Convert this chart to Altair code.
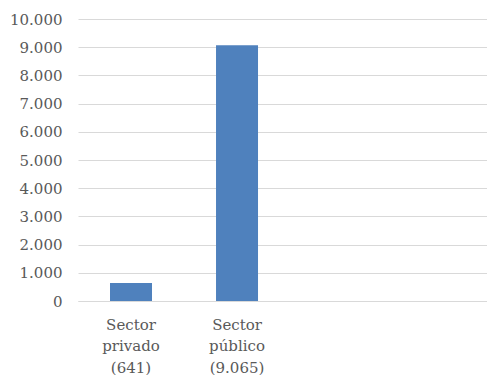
import altair as alt
import pandas as pd

categories = ["Sector privado (641)", "Sector público (9.065)"]
label_lines = {"Sector privado (641)": "Sector|privado|(641)",
               "Sector público (9.065)": "Sector|público|(9.065)"}
values = [641, 9065]

df = pd.DataFrame({"cat": categories, "value": values})

label_map = "{" + ",".join(f"'{k}':'{v}'" for k, v in label_lines.items()) + "}"

chart = alt.Chart(df).mark_bar(color="#4F81BD", size=42).encode(
    x=alt.X("cat:N", sort=categories,
            scale=alt.Scale(paddingInner=0, paddingOuter=0.929, align=0),
            axis=alt.Axis(title=None, labelAngle=0, domain=True, domainColor="#D9D9D9",
                          domainWidth=1, ticks=False, grid=False,
                          labelExpr=f"split({label_map}[datum.value], '|')",
                          labelFont="DejaVu Serif", labelFontSize=15, labelColor="#595959",
                          labelLineHeight=21.5, labelPadding=16, labelBaseline="top")),
    y=alt.Y("value:Q", scale=alt.Scale(domain=[0, 10000], nice=False),
            axis=alt.Axis(title=None, values=list(range(0, 10001, 1000)),
                          labelExpr="replace(format(datum.value, ','), ',', '.')",
                          domain=False, ticks=False, gridColor="#D9D9D9", gridWidth=1,
                          labelFont="DejaVu Serif", labelFontSize=15, labelColor="#595959",
                          labelPadding=16)),
).properties(width=409, height=282, autosize="none",
             padding={"left": 70, "top": 11, "right": 0, "bottom": 80}
).configure_view(stroke=None)

chart.save("out.html", embed_options={"renderer": "svg", "actions": False})
